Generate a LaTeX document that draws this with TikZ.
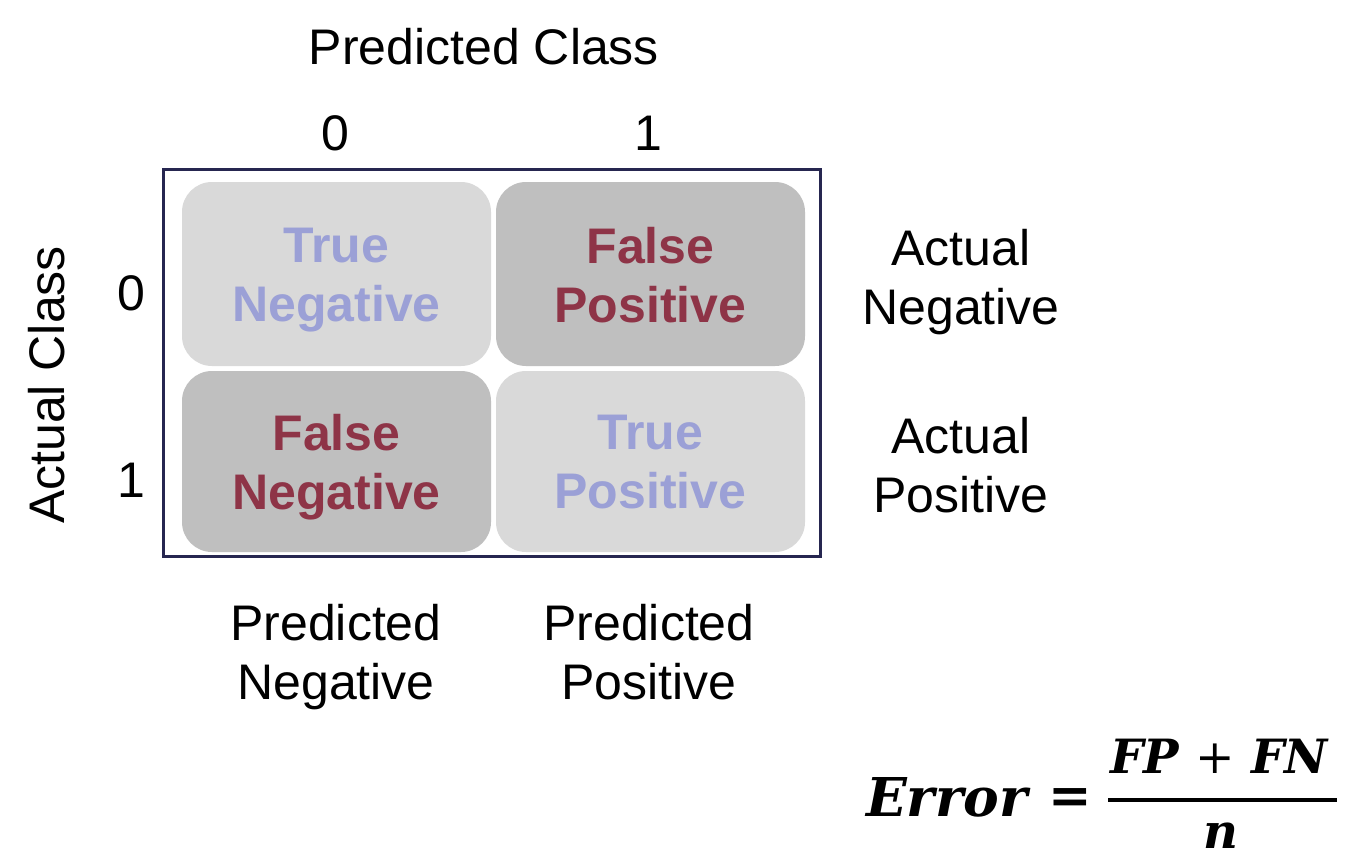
\documentclass[tikz,border=0pt]{standalone}
\usepackage{fontspec}
\setmainfont{Liberation Sans}
\newfontfamily\formfont{DejaVu Serif}
\usepackage{graphicx}
\definecolor{cellLight}{HTML}{D9D9D9}
\definecolor{cellDark}{HTML}{BFBFBF}
\definecolor{txtBlue}{HTML}{9BA0D6}
\definecolor{txtRed}{HTML}{8E3447}
\definecolor{frameCol}{HTML}{262650}
\begin{document}
\begin{tikzpicture}[x=1pt,y=-1pt,
  cellbox/.style={rounded corners=30pt, minimum width=309pt, inner sep=0pt},
  lightcell/.style={cellbox, fill=cellLight},
  darkcell/.style={cellbox, fill=cellDark},
  celltext/.style={inner sep=0pt, align=center, yshift=-6pt,
    font=\fontsize{50}{59}\selectfont\bfseries},
  lbl/.style={inner sep=0pt, align=center, font=\fontsize{50}{59}\selectfont},
  form/.style={inner sep=0pt, font=\fontsize{48}{58}\selectfont\formfont\bfseries\itshape}]
\useasboundingbox (0,0) rectangle (1348,857);
\fill[white] (0,0) rectangle (1348,857);
% frame
\node[draw=frameCol, line width=3pt, minimum width=657pt, minimum height=387pt, inner sep=0pt] (frame) at (491.5,362.5) {};
% cells
\node[lightcell, minimum height=184pt] (tn) at (336.5,274) {};
\node[darkcell, minimum height=184pt] (fp) at (650.5,274) {};
\node[darkcell, minimum height=181pt] (fn) at (336.5,461.5) {};
\node[lightcell, minimum height=181pt] (tp) at (650.5,461.5) {};
\node[celltext, text=txtBlue] (tnt) at (tn.center) {True\\Negative};
\node[celltext, text=txtRed] (fpt) at (fp.center) {False\\Positive\vphantom{g}};
\node[celltext, text=txtRed] (fnt) at (fn.center) {False\\Negative};
\node[celltext, text=txtBlue] (tpt) at (tp.center) {True\\Positive\vphantom{g}};
% labels
\node[lbl] (pc) at (484,47) {Predicted Class};
\node[lbl] (c0) at (335,133) {0};
\node[lbl] (c1) at (648,133) {1};
\node[lbl] (r0) at (131,293) {0};
\node[lbl] (r1) at (131,480) {1};
\node[lbl, rotate=90] (ac) at (47,385) {Actual Class};
\node[lbl] (an) at (961,282) {Actual\\Negative};
\node[lbl] (ap) at (961,470) {Actual\\Positive\vphantom{g}};
\node[lbl] (pn) at (336,657) {Predicted\\Negative};
\node[lbl] (pp) at (649,657) {Predicted\\Positive\vphantom{g}};
% formula
\node[form, anchor=base west] (err) at (866,816) {\resizebox{161pt}{!}{Error}};
\node[inner sep=0pt, font=\fontsize{52}{58}\selectfont\formfont\bfseries] (eq) at (1070,801) {=};
\node[form, anchor=base] (num) at (1219,773) {\resizebox{218pt}{!}{FP {\upshape\mdseries +} FN}};
\coordinate (barl) at (1108,800);
\coordinate (barr) at (1337,800);
\draw[line width=4pt] (barl) -- (barr);
\node[form, anchor=base] (den) at (1221,848) {n};
\end{tikzpicture}
\end{document}
